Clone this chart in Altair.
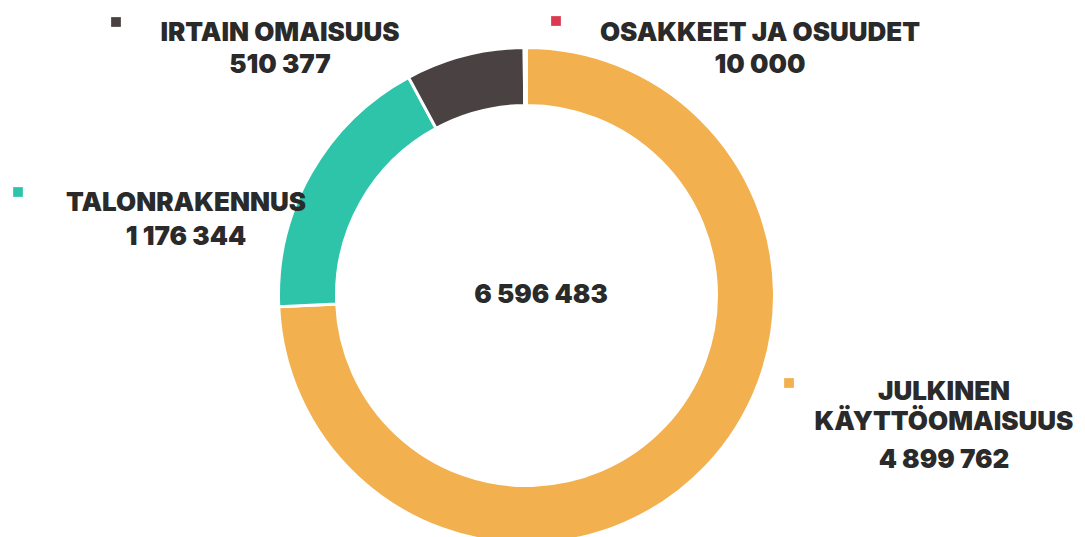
import altair as alt
import pandas as pd

# data
categories = ["JULKINEN KÄYTTÖOMAISUUS", "TALONRAKENNUS", "IRTAIN OMAISUUS", "OSAKKEET JA OSUUDET"]
values = [4899762, 1176344, 510377, 10000]
colors = ["#F2B04F", "#2EC4AA", "#4A4242", "#D93A50"]
label_lines = [["JULKINEN", "KÄYTTÖOMAISUUS"], ["TALONRAKENNUS"], ["IRTAIN OMAISUUS"], ["OSAKKEET JA OSUUDET"]]
total_label = "6 596 483"


def fmt(v):
    return f"{v:,}".replace(",", " ")


df = pd.DataFrame({"cat": categories, "value": values, "idx": list(range(len(categories)))})

W, H = 1069, 560
CX, CY = 518.5, 287.5
FONT = "Inter"
FS = 26
TXT = "#2a2a2a"

ring = alt.Chart(df).mark_arc(innerRadius=190, outerRadius=248, stroke="white", strokeWidth=3).encode(
    theta=alt.Theta("value:Q", stack=True),
    color=alt.Color("cat:N", scale=alt.Scale(domain=categories, range=colors), legend=None),
    order=alt.Order("idx:Q"),
    x=alt.value(CX),
    y=alt.value(CY),
)

# label layout (page coords minus 8px margin)
layout = {
    0: dict(sq=(781, 375), cx=936, ys=[384, 414, 452]),
    1: dict(sq=(10, 184), cx=178, ys=[195, 229]),
    2: dict(sq=(108, 14), cx=272, ys=[25, 57]),
    3: dict(sq=(548, 13), cx=752, ys=[25, 57]),
}

base = alt.Chart(pd.DataFrame({"k": [0]}))
layers = [ring]
for i, cat in enumerate(categories):
    L = layout[i]
    layers.append(
        base.mark_square(size=95, filled=True, opacity=1).encode(
            x=alt.value(L["sq"][0]), y=alt.value(L["sq"][1]), color=alt.value(colors[i])
        )
    )
    lines = label_lines[i] + [fmt(values[i])]
    for line, yy in zip(lines, L["ys"]):
        layers.append(
            base.mark_text(font=FONT, fontWeight=900, fontSize=FS, color=TXT, align="center", baseline="middle").encode(
                x=alt.value(L["cx"]), y=alt.value(yy), text=alt.value(line)
            )
        )

layers.append(
    base.mark_text(font=FONT, fontWeight=900, fontSize=FS, color=TXT, align="center", baseline="middle").encode(
        x=alt.value(533), y=alt.value(287), text=alt.value(total_label)
    )
)

chart = alt.layer(*layers).properties(width=W, height=H, padding=0, autosize="none").configure_view(stroke=None)

chart.save("out.html", embed_options={"renderer": "svg", "actions": False})
